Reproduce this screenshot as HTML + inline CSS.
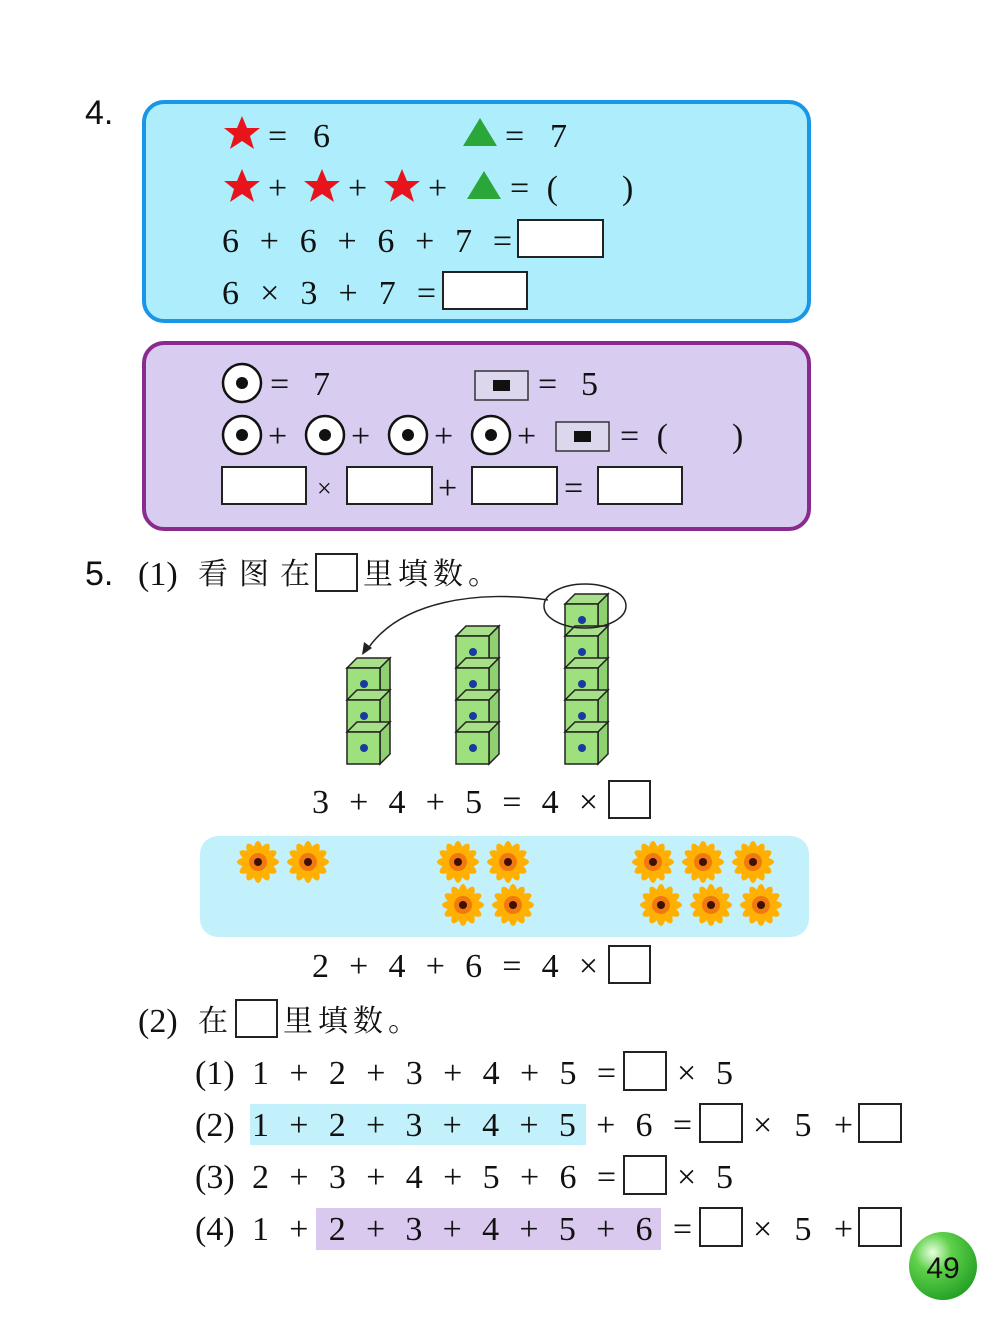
<!DOCTYPE html>
<html><head><meta charset="utf-8"><style>
html,body{margin:0;padding:0;background:#fff;}
svg{display:block;}
text{font-family:"Liberation Serif","Noto Serif CJK SC",serif;font-size:34px;fill:#111;}
.sans{font-family:"Liberation Sans",sans-serif;font-size:34px;}
.cjk{font-family:"Noto Serif CJK SC","Liberation Serif",serif;font-size:30px;}
</style></head><body>
<svg width="1000" height="1336" viewBox="0 0 1000 1336" xmlns="http://www.w3.org/2000/svg">
<defs>
<g id="star"><polygon points="0,-18 5,-6 18,-6 8,2 12,15 0,7 -12,15 -8,2 -18,-6 -5,-6" fill="#e8141c"/></g>
<g id="tri"><polygon points="0,-15 17,13 -17,13" fill="#2aa63a"/></g>
<g id="circ"><circle r="19" fill="#fff" stroke="#111" stroke-width="2.5"/><circle r="6" fill="#111"/></g>
<g id="sq"><rect x="0" y="0" width="53" height="29" fill="#ddd7ee" stroke="#333" stroke-width="1.5"/><rect x="18" y="9" width="17" height="11" fill="#111"/></g>
<g id="cube">
<polygon points="0,0 10,-10 43,-10 33,0" fill="#a8e08a" stroke="#222" stroke-width="1.5"/>
<polygon points="33,0 43,-10 43,22 33,32" fill="#8fd070" stroke="#222" stroke-width="1.5"/>
<rect x="0" y="0" width="33" height="32" fill="#9fe07e" stroke="#222" stroke-width="1.5"/>
<circle cx="17" cy="16" r="4" fill="#1a3aa0"/>
</g>
<g id="fl">
<g fill="#ffb000">
<ellipse rx="21" ry="6" transform="rotate(0)"/><ellipse rx="21" ry="6" transform="rotate(30)"/><ellipse rx="21" ry="6" transform="rotate(60)"/><ellipse rx="21" ry="6" transform="rotate(90)"/><ellipse rx="21" ry="6" transform="rotate(120)"/><ellipse rx="21" ry="6" transform="rotate(150)"/>
</g>
<circle r="9" fill="#f07a10"/><circle r="4" fill="#401000"/>
</g>
</defs>

<!-- Problem 4 -->
<text class="sans" x="85" y="124">4.</text>
<rect x="144" y="102" width="665" height="219" rx="20" fill="#aeeefc" stroke="#1a96e6" stroke-width="4"/>
<use href="#star" x="242" y="134"/><text x="268" y="147" textLength="62" lengthAdjust="spacing">= 6</text>
<use href="#tri" x="480" y="133"/><text x="505" y="147" textLength="62" lengthAdjust="spacing">= 7</text>
<use href="#star" x="242" y="187"/><text x="268" y="199">+</text>
<use href="#star" x="322" y="187"/><text x="348" y="199">+</text>
<use href="#star" x="402" y="187"/><text x="428" y="199">+</text>
<use href="#tri" x="484" y="186"/><text x="510" y="199" textLength="48" lengthAdjust="spacing">=(</text><text x="622" y="199">)</text>
<text x="222" y="252" textLength="290" lengthAdjust="spacing">6 + 6 + 6 + 7 =</text>
<rect x="518" y="220" width="85" height="37" fill="#fff" stroke="#222" stroke-width="2"/>
<text x="222" y="304" textLength="214" lengthAdjust="spacing">6 × 3 + 7 =</text>
<rect x="443" y="272" width="84" height="37" fill="#fff" stroke="#222" stroke-width="2"/>

<rect x="144" y="343" width="665" height="186" rx="20" fill="#d8cdf0" stroke="#8a2a8e" stroke-width="4"/>
<use href="#circ" x="242" y="383"/><text x="270" y="395" textLength="60" lengthAdjust="spacing">= 7</text>
<use href="#sq" x="475" y="371"/><text x="538" y="395" textLength="60" lengthAdjust="spacing">= 5</text>
<use href="#circ" x="242" y="435"/><text x="268" y="447">+</text>
<use href="#circ" x="325" y="435"/><text x="351" y="447">+</text>
<use href="#circ" x="408" y="435"/><text x="434" y="447">+</text>
<use href="#circ" x="491" y="435"/><text x="517" y="447">+</text>
<use href="#sq" x="556" y="422"/><text x="620" y="447" textLength="48" lengthAdjust="spacing">=(</text><text x="732" y="447">)</text>
<rect x="222" y="467" width="84" height="37" fill="#fff" stroke="#222" stroke-width="2"/>
<text x="317" y="497" style="font-size:26px">×</text>
<rect x="347" y="467" width="85" height="37" fill="#fff" stroke="#222" stroke-width="2"/>
<text x="438" y="499">+</text>
<rect x="472" y="467" width="85" height="37" fill="#fff" stroke="#222" stroke-width="2"/>
<text x="564" y="499">=</text>
<rect x="598" y="467" width="84" height="37" fill="#fff" stroke="#222" stroke-width="2"/>

<!-- Problem 5 -->
<text class="sans" x="85" y="585">5.</text>
<text x="138" y="585">(1)</text>
<text class="cjk" x="198" y="584" textLength="112" lengthAdjust="spacing">看图在</text>
<rect x="316" y="554" width="41" height="37" fill="#fff" stroke="#222" stroke-width="2"/>
<text class="cjk" x="363" y="584" textLength="135" lengthAdjust="spacing">里填数。</text>

<!-- cubes -->
<use href="#cube" x="347" y="668"/><use href="#cube" x="347" y="700"/><use href="#cube" x="347" y="732"/>
<use href="#cube" x="456" y="636"/><use href="#cube" x="456" y="668"/><use href="#cube" x="456" y="700"/><use href="#cube" x="456" y="732"/>
<use href="#cube" x="565" y="604"/><use href="#cube" x="565" y="636"/><use href="#cube" x="565" y="668"/><use href="#cube" x="565" y="700"/><use href="#cube" x="565" y="732"/>
<ellipse cx="585" cy="606" rx="41" ry="22" fill="none" stroke="#222" stroke-width="1.5"/>
<path d="M548,600 C480,590 400,600 367,650" fill="none" stroke="#222" stroke-width="1.5"/>
<polygon points="362,655 364,642 372,648" fill="#222"/>
<text x="312" y="813" textLength="286" lengthAdjust="spacing">3 + 4 + 5 = 4 ×</text>
<rect x="609" y="781" width="41" height="37" fill="#fff" stroke="#222" stroke-width="2"/>

<rect x="200" y="836" width="609" height="101" rx="18" fill="#c3f1fb"/>
<use href="#fl" x="258" y="862"/><use href="#fl" x="308" y="862"/>
<use href="#fl" x="458" y="862"/><use href="#fl" x="508" y="862"/><use href="#fl" x="463" y="905"/><use href="#fl" x="513" y="905"/>
<use href="#fl" x="653" y="862"/><use href="#fl" x="703" y="862"/><use href="#fl" x="753" y="862"/>
<use href="#fl" x="661" y="905"/><use href="#fl" x="711" y="905"/><use href="#fl" x="761" y="905"/>
<text x="312" y="977" textLength="286" lengthAdjust="spacing">2 + 4 + 6 = 4 ×</text>
<rect x="609" y="946" width="41" height="37" fill="#fff" stroke="#222" stroke-width="2"/>

<text x="138" y="1032">(2)</text>
<text class="cjk" x="198" y="1031">在</text>
<rect x="236" y="1000" width="41" height="37" fill="#fff" stroke="#222" stroke-width="2"/>
<text class="cjk" x="283" y="1031" textLength="135" lengthAdjust="spacing">里填数。</text>

<rect x="250" y="1104" width="336" height="41" fill="#c3f1fb"/>
<rect x="316" y="1208" width="345" height="42" fill="#d9c9ef"/>

<text x="195" y="1084">(1)</text>
<text x="252" y="1084" textLength="364" lengthAdjust="spacing">1 + 2 + 3 + 4 + 5 =</text>
<rect x="624" y="1052" width="42" height="38" fill="#fff" stroke="#222" stroke-width="2"/>
<text x="677" y="1084" textLength="56" lengthAdjust="spacing">× 5</text>

<text x="195" y="1136">(2)</text>
<text x="252" y="1136" textLength="440" lengthAdjust="spacing">1 + 2 + 3 + 4 + 5 + 6 =</text>
<rect x="700" y="1104" width="42" height="38" fill="#fff" stroke="#222" stroke-width="2"/>
<text x="753" y="1136" textLength="100" lengthAdjust="spacing">× 5 +</text>
<rect x="859" y="1104" width="42" height="38" fill="#fff" stroke="#222" stroke-width="2"/>

<text x="195" y="1188">(3)</text>
<text x="252" y="1188" textLength="364" lengthAdjust="spacing">2 + 3 + 4 + 5 + 6 =</text>
<rect x="624" y="1156" width="42" height="38" fill="#fff" stroke="#222" stroke-width="2"/>
<text x="677" y="1188" textLength="56" lengthAdjust="spacing">× 5</text>

<text x="195" y="1240">(4)</text>
<text x="252" y="1240" textLength="440" lengthAdjust="spacing">1 + 2 + 3 + 4 + 5 + 6 =</text>
<rect x="700" y="1208" width="42" height="38" fill="#fff" stroke="#222" stroke-width="2"/>
<text x="753" y="1240" textLength="100" lengthAdjust="spacing">× 5 +</text>
<rect x="859" y="1208" width="42" height="38" fill="#fff" stroke="#222" stroke-width="2"/>

<!-- page number -->
<defs><radialGradient id="g" cx="0.35" cy="0.3" r="0.8"><stop offset="0" stop-color="#e8ffe0"/><stop offset="0.35" stop-color="#5fd04a"/><stop offset="1" stop-color="#1c9a20"/></radialGradient></defs>
<circle cx="943" cy="1266" r="34" fill="url(#g)"/>
<text class="sans" x="943" y="1278" text-anchor="middle" style="font-size:30px">49</text>
</svg>
</body></html>
